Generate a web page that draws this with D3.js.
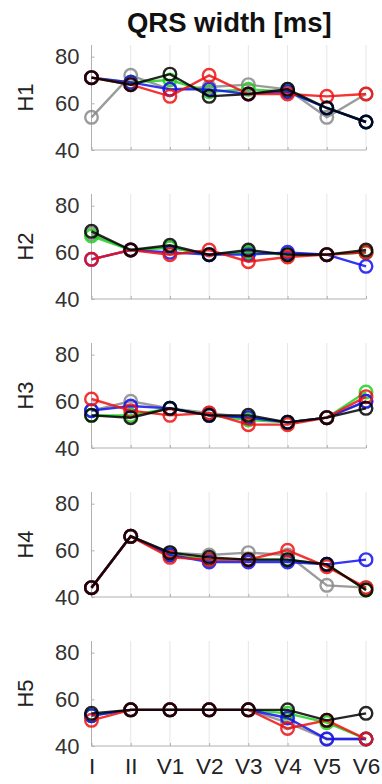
<!DOCTYPE html>
<html>
<head>
<meta charset="utf-8">
<script src="https://cdn.jsdelivr.net/npm/d3@7"></script>
<style>
  html, body { margin: 0; padding: 0; background: #fff; }
  svg { display: block; font-family: "Liberation Sans", Arial, sans-serif; }
</style>
</head>
<body>
<svg id="chart" width="382" height="784"></svg>
<script>
// x categories (ECG leads) and panel names
const leads = ["I", "II", "V1", "V2", "V3", "V4", "V5", "V6"];
const panels = ["H1", "H2", "H3", "H4", "H5"];
const yTicks = [40, 60, 80];

// one row per panel (H1..H5), one value per lead
const grayVals = [
  [54, 72, 66, 67, 68, 66, 54, 64],
  [68, 61, 62, 59, 60, 59, 59, 60],
  [56, 60, 57, 55, 53, 51, 53, 60],
  [44, 66, 59, 58, 59, 58, 45, 44],
  [53, 55.5, 55.5, 55.5, 55.5, 50, 43, 43]
];
const greenVals = [
  [71, 69, 70, 65, 66, 65, 58, 52],
  [67, 61, 62, 59, 60, 59, 59, 60],
  [54, 54, 57, 54, 52, 51, 53, 64],
  [44, 66, 58, 56, 56, 56, 54, 43],
  [53, 55.5, 55.5, 55.5, 55.5, 54, 50, 43]
];
const blueVals = [
  [71, 69, 66, 66, 64, 65, 58, 52],
  [57, 61, 60, 59, 59, 60, 59, 54],
  [56, 58, 57, 54, 53, 51, 53, 60],
  [44, 66, 58, 55, 55, 55, 54, 56],
  [53, 55.5, 55.5, 55.5, 55.5, 52, 43, 43]
];
const redVals = [
  [71, 68, 63, 72, 64, 64, 63, 64],
  [57, 61, 59, 61, 56, 58, 59, 60],
  [61, 56, 54, 55, 50, 50, 53, 62],
  [44, 66, 57, 56, 56, 60, 53, 44],
  [51, 55.5, 55.5, 55.5, 55.5, 47.5, 51, 43]
];
const blackVals = [
  [71, 68, 72.5, 63, 64, 66, 58, 52],
  [69, 61, 63, 59, 61, 59, 59, 61],
  [54, 53, 57, 54, 54, 51, 53, 57],
  [44, 66, 59, 57, 56, 56, 54, 43],
  [54, 55.5, 55.5, 55.5, 55.5, 55.5, 51, 54]
];

// drawing order: black ends on top
const series = [
  { color: "#8a8a8a", vals: grayVals },
  { color: "#1fd21f", vals: greenVals },
  { color: "#1010f0", vals: blueVals },
  { color: "#f01010", vals: redVals },
  { color: "#000000", vals: blackVals }
];

const svg = d3.select("#chart");
const left = 91.5, right = 366;
const panelTop = 45, panelH = 105, panelStep = 149;

const x = d3.scalePoint().domain(leads).range([left, right]);

svg.append("text")
  .attr("x", (left + right) / 2 + 0.5)
  .attr("y", 32)
  .attr("text-anchor", "middle")
  .attr("font-size", "27.5px")
  .attr("font-weight", "bold")
  .attr("fill", "#111")
  .text("QRS width [ms]");

panels.forEach((name, i) => {
  const top = panelTop + i * panelStep;
  const y = d3.scaleLinear().domain([40, 85]).range([top + panelH, top]);
  const g = svg.append("g");

  // vertical grid
  g.selectAll("line.grid")
    .data(leads)
    .enter().append("line")
    .attr("x1", d => x(d)).attr("x2", d => x(d))
    .attr("y1", top).attr("y2", top + panelH)
    .attr("stroke", "#e6e6e6")
    .attr("stroke-width", 1);

  // axes
  const yAxis = d3.axisLeft(y).tickValues(yTicks).tickSize(-3).tickPadding(12);
  const ya = g.append("g").attr("transform", `translate(${left},0)`).call(yAxis);
  ya.select(".domain").attr("stroke", "#b0b0b0").attr("d", `M0,${top}V${top + panelH}`);
  ya.selectAll(".tick line").attr("stroke", "#b0b0b0");
  ya.selectAll(".tick text")
    .attr("font-size", "22px")
    .attr("fill", "#333")
    .attr("font-family", "Liberation Sans, Arial, sans-serif");

  const xAxis = d3.axisBottom(x).tickSize(-3).tickFormat(i === panels.length - 1 ? d => d : () => "").tickPadding(12);
  const xa = g.append("g").attr("transform", `translate(0,${top + panelH})`).call(xAxis);
  xa.select(".domain").attr("stroke", "#b0b0b0").attr("d", `M${left},0H${right}`);
  xa.selectAll(".tick line").attr("stroke", "#b0b0b0");
  xa.selectAll(".tick text")
    .attr("font-size", "22.5px")
    .attr("fill", "#222")
    .attr("font-family", "Liberation Sans, Arial, sans-serif");

  // panel label
  g.append("text")
    .attr("transform", `translate(33,${y(62.5)}) rotate(-90)`)
    .attr("text-anchor", "middle")
    .attr("font-size", "22px")
    .attr("fill", "#222")
    .text(name);

  const line = d3.line().x((d, k) => x(leads[k])).y(d => y(d));

  series.forEach(s => {
    const vals = s.vals[i];
    g.append("path")
      .datum(vals)
      .attr("d", line)
      .attr("fill", "none")
      .attr("stroke", s.color)
      .attr("stroke-width", 2.4)
      .attr("stroke-opacity", 0.85);
    g.selectAll(null)
      .data(vals)
      .enter().append("circle")
      .attr("cx", (d, k) => x(leads[k]))
      .attr("cy", d => y(d))
      .attr("r", 6.3)
      .attr("fill", "none")
      .attr("stroke", s.color)
      .attr("stroke-width", 2.4)
      .attr("stroke-opacity", 0.85);
  });
});
</script>
</body>
</html>
